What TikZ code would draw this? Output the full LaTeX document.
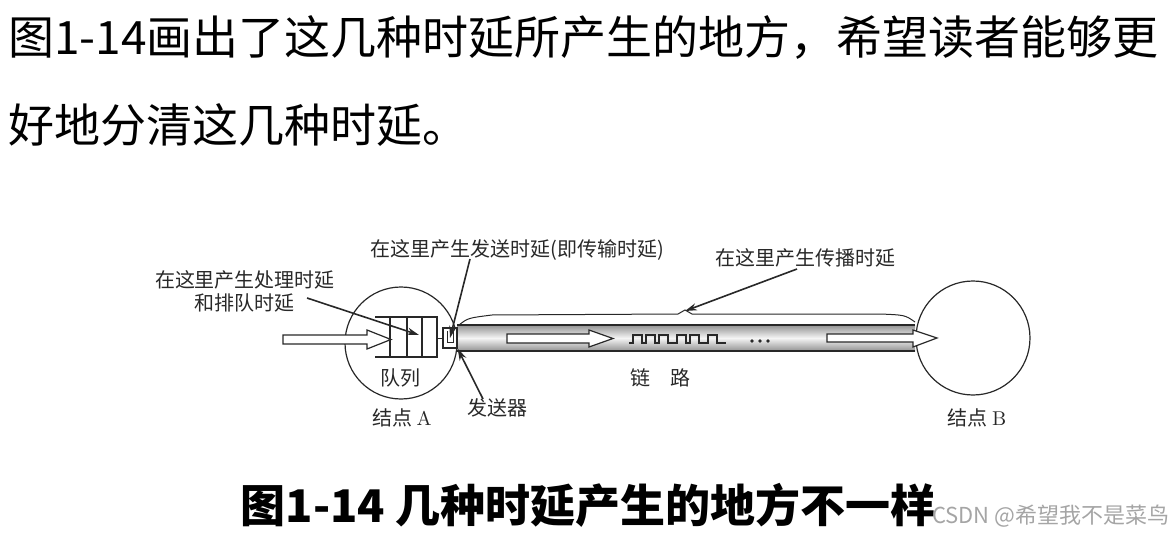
\documentclass[tikz,border=0pt]{standalone}
\usepackage{fontspec}
\usepackage{xcolor}
\usepackage{tikz}
\usetikzlibrary{arrows.meta,calc}
\newfontfamily\cjk{Noto Sans CJK SC}
\definecolor{inkgray}{RGB}{40,40,40}
\definecolor{markgray}{RGB}{165,165,165}
\tikzset{
  para/.style={font=\cjk\fontsize{23}{27}\selectfont, anchor=west, inner sep=0pt, text=black},
  lbl/.style={font=\cjk\fontsize{10}{11.5}\selectfont, text=inkgray, inner sep=0pt, align=center},
  nodecirc/.style={circle, draw=inkgray, line width=0.6pt, inner sep=0pt, minimum size=#1},
  pointer/.style={-{Stealth[length=6pt,width=3.6pt]}, line width=0.8pt, inkgray},
  hollow/.style={draw=inkgray, fill=white, line width=0.6pt, line join=miter},
  thin line/.style={draw=inkgray, line width=0.5pt},
}

\begin{document}
\begin{tikzpicture}[x=0.5pt,y=-0.5pt]
    \useasboundingbox (0,0) rectangle (1174,535);

    % text above the figure
    \node[para] (line1) at (8,38) {图1-14画出了这几种时延所产生的地方，希望读者能够更};
    \node[para] (line2) at (8,125) {好地分清这几种时延。};

    % the two nodes
    \node[nodecirc=56pt] (nodeA) at (401,343) {};
    \node[nodecirc=57pt] (nodeB) at (973,338) {};

    % link (shaded tube) and its outline above
    \shade[top color=gray!85, bottom color=gray!85, middle color=gray!8]
          (457,325) rectangle (915,351);
    \draw[thin line, line width=0.7pt] (457,325) -- (915,325);
    \draw[thin line, line width=0.7pt] (457,351) -- (915,351);
    \draw[thin line] (459,325) .. controls (468,318) .. (492,315) -- (678,314)
          -- (685,310) -- (692,314) -- (880,314) .. controls (905,315) .. (915,322);

    % queue in node A
    \draw[thin line, line width=0.6pt] (375,317) -- (437,317) -- (437,357) -- (375,357);
    \foreach \x in {390,407,422}
      \draw[thin line, line width=0.6pt] (\x,317) -- (\x,357);

    % incoming packets
    \draw[hollow] (283,335) -- (367,335) -- (367,330) -- (391,339.5)
          -- (367,349) -- (367,344) -- (283,344) -- cycle;

    % transmitter
    \node[draw=inkgray, fill=white, line width=0.6pt, inner sep=0pt,
          minimum width=7pt, minimum height=10pt] (sender) at (450,338) {};
    \draw[thin line] (437,338) -- (sender.west);
    \draw[thin line] (447,331) -- (447,342) -- (453,342) -- (453,331);

    % bits on the link
    \draw[hollow] (507,334) -- (589,334) -- (589,330) -- (613,338.5)
          -- (589,347) -- (589,343) -- (507,343) -- cycle;
    \draw[thin line, line width=1.1pt] (629,343) -- (633,343) -- (633,335) -- (642,335) -- (642,343)
          -- (646,343) -- (646,335) -- (655,335) -- (655,343)
          -- (659,343) -- (659,335) -- (668,335) -- (668,343)
          -- (677,343) -- (677,335) -- (686,335) -- (686,343)
          -- (690,343) -- (690,335) -- (699,335) -- (699,343)
          -- (708,343) -- (708,335) -- (717,335) -- (717,343) -- (726,343);
    \foreach \x in {752,760,768}
      \fill[inkgray] (\x,341) circle[radius=1.9];
    \draw[hollow] (827,334) -- (913,334) -- (913,330) -- (937,338)
          -- (913,347) -- (913,342) -- (827,342) -- cycle;

    % labels
    \node[lbl] (proclbl) at (245,291) {在这里产生处理时延\\和排队时延};
    \node[lbl] (sendlbl) at (517,250) {在这里产生发送时延(即传输时延)};
    \node[lbl] (proplbl) at (805,258) {在这里产生传播时延};
    \node[lbl] (queuelbl) at (400,378) {队列};
    \node[lbl] (nameA) at (402,418) {结点 {\normalfont A}};
    \node[lbl] (senderlbl) at (497,408) {发送器};
    \node[lbl] (linklbl) at (660,378) {链\quad 路};
    \node[lbl] (nameB) at (977,418) {结点 {\normalfont B}};

    % pointers
    \coordinate (procfrom) at (307,298);
    \coordinate (procto) at (419,335);
    \draw[pointer] (procfrom) -- (procto);
    \coordinate (sendfrom) at (470,259);
    \draw[pointer] (sendfrom) -- (sender.center);
    \coordinate (senderfrom) at (483,399);
    \draw[pointer] (senderfrom) -- (sender.south east);
    \coordinate (propfrom) at (797,269);
    \coordinate (propto) at (685,311);
    \draw[pointer] (propfrom) -- (propto);

    % caption and mark
    \node[font=\cjk\bfseries\fontsize{22.5}{27}\selectfont, inner sep=0pt] (caption) at (588,505)
          {图1-14 几种时延产生的地方不一样};
    \node[anchor=east, inner sep=0pt, text=markgray, font=\cjk\fontsize{11}{13}\selectfont] (mark)
          at (1170,516) {CSDN @希望我不是菜鸟};
\end{tikzpicture}
\end{document}
